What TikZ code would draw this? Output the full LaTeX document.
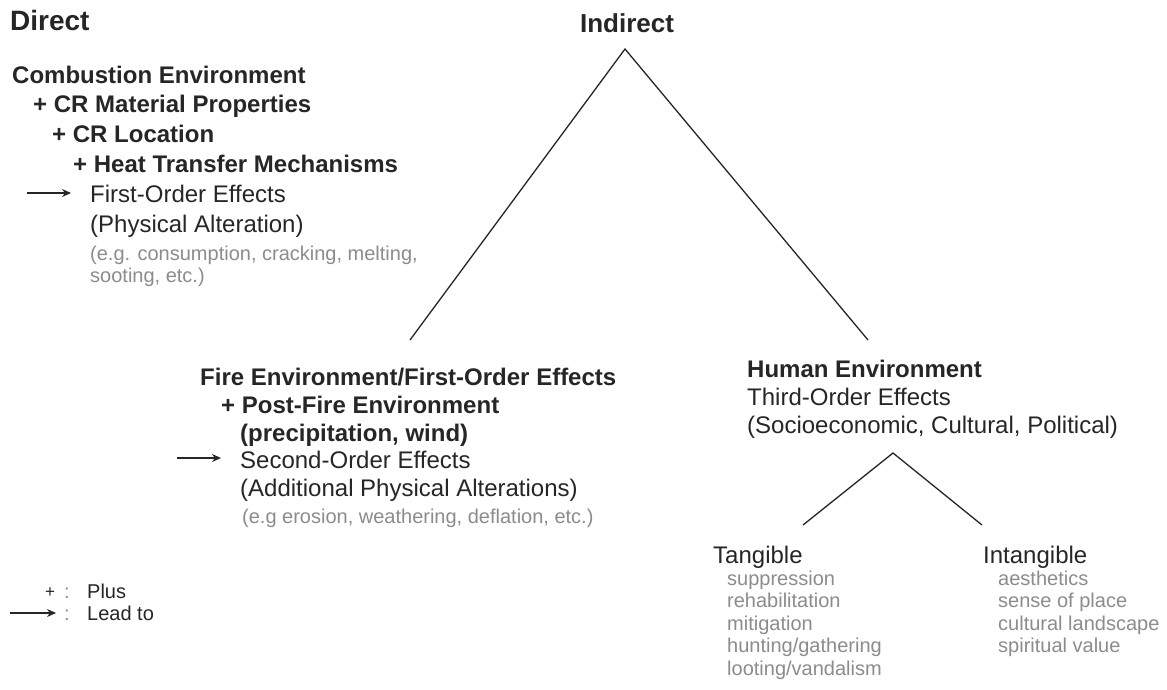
\documentclass[tikz,border=0pt]{standalone}
\usepackage{fontspec}
\setmainfont{Liberation Sans}
\usetikzlibrary{arrows.meta}
\definecolor{ink}{HTML}{262626}
\definecolor{notegray}{HTML}{8C8C8C}
\begin{document}
\begin{tikzpicture}[x=1pt,y=-1pt,
    head/.style={anchor=base west,inner sep=0pt,font=\fontsize{26}{30}\selectfont\bfseries,text=ink},
    bold/.style={anchor=base west,inner sep=0pt,font=\fontsize{24}{28}\selectfont\bfseries,text=ink,align=left},
    plain/.style={anchor=base west,inner sep=0pt,font=\fontsize{24}{28}\selectfont,text=ink,align=left},
    note/.style={anchor=base west,inner sep=0pt,font=\fontsize{20}{22.5}\selectfont,text=notegray,align=left},
    legend/.style={anchor=base west,inner sep=0pt,font=\fontsize{20}{22}\selectfont,text=ink},
    lead/.style={-{Stealth[length=9pt,width=8pt]},line width=1.2pt,ink},
    branch/.style={line width=1.3pt,ink}]
    \useasboundingbox[fill=white] (0,0) rectangle (1167,689);
    % headings
    \node[head,font=\fontsize{28}{30}\selectfont\bfseries] (direct) at (10,30) {Direct};
    \node[head,anchor=base] (indirect) at (627,32) {Indirect};
    % direct chain (multi-line nodes sit on their last line)
    \node[bold] (comb) at (12,83) {Combustion Environment};
    \node[bold] (mat) at (33,112) {+ CR Material Properties};
    \node[bold] (loc) at (52,142) {+ CR Location};
    \node[bold] (heat) at (73,172) {+ Heat Transfer Mechanisms};
    \node[plain] (first) at (90,232) {First-Order Effects\\[2pt](Physical Alteration)};
    \node[note] (ex1) at (90,282.5) {(e.g. consumption, cracking, melting,\\sooting, etc.)};
    \coordinate (a1s) at (27,193);
    \coordinate (a1e) at (71,193);
    \draw[lead] (a1s) -- (a1e);
    % indirect branches
    \coordinate (apex) at (625,49);
    \coordinate (fireend) at (410,340);
    \coordinate (humanend) at (868,340);
    \draw[branch] (fireend) -- (apex) -- (humanend);
    % second order
    \node[bold] (fire) at (200,385) {Fire Environment/First-Order Effects};
    \node[bold] (post) at (221,413) {+ Post-Fire Environment};
    \node[bold] (precip) at (240,441) {(precipitation, wind)};
    \node[plain] (second) at (240,496) {Second-Order Effects\\(Additional Physical Alterations)};
    \node[note] (ex2) at (242,523) {(e.g erosion, weathering, deflation, etc.)};
    \coordinate (a2s) at (177,458);
    \coordinate (a2e) at (221,458);
    \draw[lead] (a2s) -- (a2e);
    % third order
    \node[bold] (human) at (747,377) {Human Environment};
    \node[plain] (third) at (747,433) {Third-Order Effects\\(Socioeconomic, Cultural, Political)};
    \coordinate (apex2) at (893,453);
    \coordinate (tangend) at (803,525);
    \coordinate (intend) at (982,525);
    \draw[branch] (tangend) -- (apex2) -- (intend);
    \node[plain] (tang) at (713,563) {Tangible};
    \node[note] (tangitems) at (727,675) {suppression\\rehabilitation\\mitigation\\hunting/gathering\\looting/vandalism};
    \node[plain] (intang) at (983,563) {Intangible};
    \node[note] (intangitems) at (998,652.5) {aesthetics\\sense of place\\cultural landscape\\spiritual value};
    % legend
    \node[legend,font=\fontsize{17}{18}\selectfont] (plussym) at (45,597) {+};
    \node[legend,text=notegray] (colon1) at (64,598) {:};
    \node[legend] (plus) at (87,598) {Plus};
    \coordinate (a3s) at (10,613);
    \coordinate (a3e) at (56,613);
    \draw[lead] (a3s) -- (a3e);
    \node[legend,text=notegray] (colon2) at (64,620) {:};
    \node[legend] (leadto) at (87,620) {Lead to};
\end{tikzpicture}
\end{document}
